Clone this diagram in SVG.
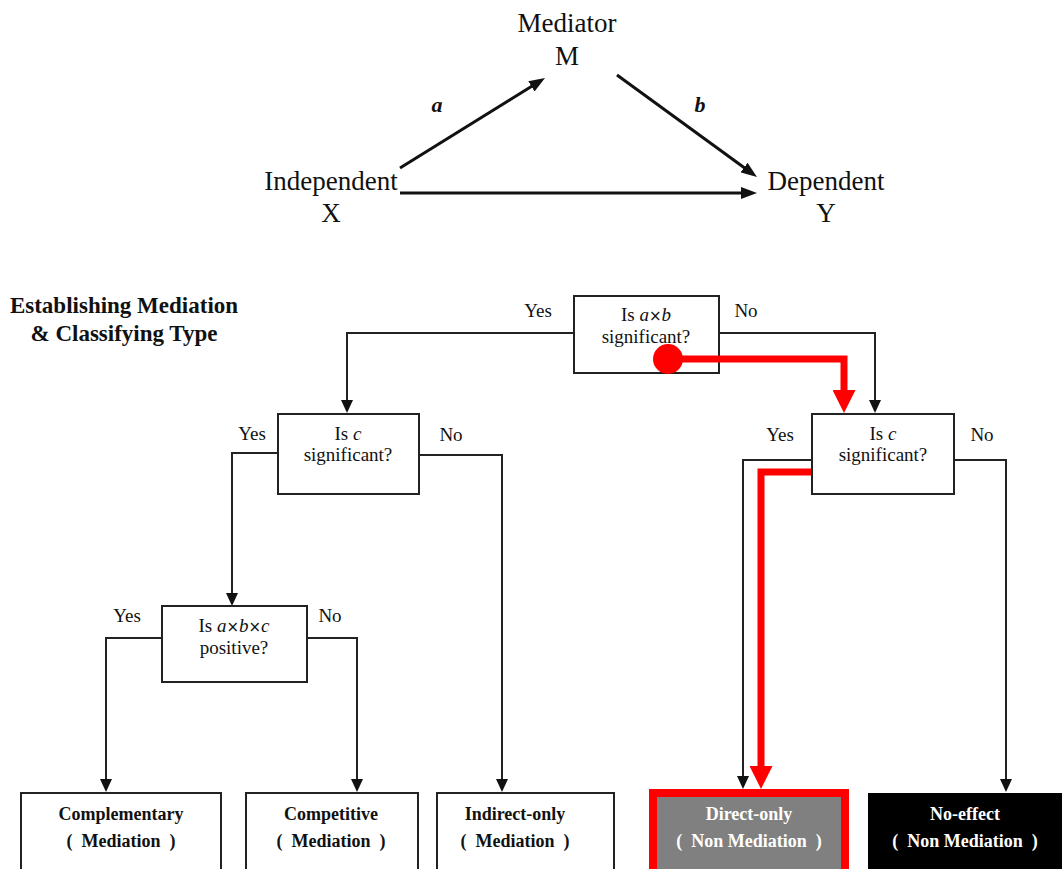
<svg xmlns="http://www.w3.org/2000/svg" width="1062" height="869" viewBox="0 0 1062 869">
<defs>
<style>
.t{font-family:"Liberation Serif","Times New Roman",serif;fill:#111;}
.big{font-size:27px;}
.lab{font-size:19px;}
.out{font-size:18px;font-weight:bold;}
.bold{font-weight:bold;}
.box{fill:#fff;stroke:#222;stroke-width:2;}
.ln{fill:none;stroke:#222;stroke-width:2;}
.tl{fill:none;stroke:#111;stroke-width:3;}
.red{fill:none;stroke:#f00;stroke-width:7;}
.x{font-family:"DejaVu Sans",sans-serif;font-size:15px;font-style:normal;}
</style>
<marker id="ah" markerUnits="userSpaceOnUse" viewBox="0 0 13 12" markerWidth="13" markerHeight="12" refX="8" refY="6" orient="auto"><path d="M0,0 L13,6 L0,12 z" fill="#111"/></marker>
<marker id="ahT" markerUnits="userSpaceOnUse" viewBox="0 0 16 12" markerWidth="16" markerHeight="12" refX="8" refY="6" orient="auto"><path d="M0,0 L16,6 L0,12 z" fill="#111"/></marker>
<marker id="ahR" markerUnits="userSpaceOnUse" viewBox="0 0 23 23" markerWidth="23" markerHeight="23" refX="13" refY="11.5" orient="auto"><path d="M0,0 L23,11.5 L0,23 z" fill="#f00"/></marker>
</defs>
<rect width="1062" height="869" fill="#fff"/>

<!-- Top mediation model -->
<g id="mediator"><text class="t big" x="567" y="32" text-anchor="middle">Mediator</text><text class="t big" x="567" y="65" text-anchor="middle">M</text></g>
<g id="independent"><text class="t big" x="331" y="190" text-anchor="middle">Independent</text><text class="t big" x="331" y="222" text-anchor="middle">X</text></g>
<g id="dependent"><text class="t big" x="826" y="190" text-anchor="middle">Dependent</text><text class="t big" x="826" y="222" text-anchor="middle">Y</text></g>
<g id="top-connectors">
<path class="tl" d="M400,168 L538.2,82.2" marker-end="url(#ahT)"/>
<path class="tl" d="M617,75 L750.5,172.3" marker-end="url(#ahT)"/>
<path class="tl" d="M400,193 L749,193" marker-end="url(#ahT)"/>
<text class="t bold" x="437" y="112" font-size="22" font-style="italic" text-anchor="middle">a</text>
<text class="t bold" x="700" y="112" font-size="22" font-style="italic" text-anchor="middle">b</text>
</g>

<!-- Title -->
<g id="title">
<text class="t bold" x="124" y="313" font-size="23" text-anchor="middle">Establishing Mediation</text>
<text class="t bold" x="124" y="341" font-size="23" text-anchor="middle">&amp; Classifying Type</text>
</g>

<!-- Connectors -->
<g id="connectors">
<path class="ln" d="M574,333 H347 V408" marker-end="url(#ah)"/>
<path class="ln" d="M719,333 H875 V408" marker-end="url(#ah)"/>
<path class="ln" d="M278,453 H232 V601" marker-end="url(#ah)"/>
<path class="ln" d="M419,455 H502 V787" marker-end="url(#ah)"/>
<path class="ln" d="M162,638 H106 V787" marker-end="url(#ah)"/>
<path class="ln" d="M307,638 H357 V787" marker-end="url(#ah)"/>
<path class="ln" d="M812,460 H743 V784" marker-end="url(#ah)"/>
<path class="ln" d="M954,460 H1006 V787" marker-end="url(#ah)"/>
<text class="t lab" x="538" y="317" text-anchor="middle">Yes</text>
<text class="t lab" x="746" y="317" text-anchor="middle">No</text>
<text class="t lab" x="252" y="440" text-anchor="middle">Yes</text>
<text class="t lab" x="451" y="441" text-anchor="middle">No</text>
<text class="t lab" x="127" y="622" text-anchor="middle">Yes</text>
<text class="t lab" x="330" y="622" text-anchor="middle">No</text>
<text class="t lab" x="780" y="441" text-anchor="middle">Yes</text>
<text class="t lab" x="982" y="441" text-anchor="middle">No</text>
</g>

<!-- Decision nodes -->
<g id="q-ab">
<rect class="box" x="574" y="296" width="145" height="77"/>
<text class="t lab" x="646" y="321" text-anchor="middle">Is <tspan font-style="italic">a</tspan><tspan class="x">×</tspan><tspan font-style="italic">b</tspan></text>
<text class="t lab" x="646" y="343" text-anchor="middle">significant?</text>
</g>
<g id="q-c-left">
<rect class="box" x="278" y="414" width="141" height="80"/>
<text class="t lab" x="348" y="440" text-anchor="middle">Is <tspan font-style="italic">c</tspan></text>
<text class="t lab" x="348" y="461" text-anchor="middle">significant?</text>
</g>
<g id="q-abc">
<rect class="box" x="162" y="606" width="145" height="76"/>
<text class="t lab" x="234" y="632" text-anchor="middle">Is <tspan font-style="italic">a</tspan><tspan class="x">×</tspan><tspan font-style="italic">b</tspan><tspan class="x">×</tspan><tspan font-style="italic">c</tspan></text>
<text class="t lab" x="234" y="654" text-anchor="middle">positive?</text>
</g>
<g id="q-c-right">
<rect class="box" x="812" y="414" width="142" height="80"/>
<text class="t lab" x="883" y="440" text-anchor="middle">Is <tspan font-style="italic">c</tspan></text>
<text class="t lab" x="883" y="461" text-anchor="middle">significant?</text>
</g>

<!-- Outcome nodes -->
<g id="complementary">
<rect class="box" x="21" y="793" width="200" height="80"/>
<text class="t out" x="121" y="820" text-anchor="middle">Complementary</text>
<text class="t out" x="121" y="847" text-anchor="middle" xml:space="preserve">(  Mediation  )</text>
</g>
<g id="competitive">
<rect class="box" x="246" y="793" width="172" height="80"/>
<text class="t out" x="331" y="820" text-anchor="middle">Competitive</text>
<text class="t out" x="331" y="847" text-anchor="middle" xml:space="preserve">(  Mediation  )</text>
</g>
<g id="indirect-only">
<rect class="box" x="437" y="793" width="177" height="80"/>
<text class="t out" x="515" y="820" text-anchor="middle">Indirect-only</text>
<text class="t out" x="515" y="847" text-anchor="middle" xml:space="preserve">(  Mediation  )</text>
</g>
<g id="direct-only">
<rect x="653" y="793" width="192" height="80" fill="#808080" stroke="#f00" stroke-width="8"/>
<text class="t out" x="749" y="820" text-anchor="middle" style="fill:#fff">Direct-only</text>
<text class="t out" x="749" y="847" text-anchor="middle" style="fill:#fff" xml:space="preserve">(  Non Mediation  )</text>
</g>
<g id="no-effect">
<rect x="868" y="793" width="196" height="80" fill="#000"/>
<text class="t out" x="965" y="820" text-anchor="middle" style="fill:#fff">No-effect</text>
<text class="t out" x="965" y="847" text-anchor="middle" style="fill:#fff" xml:space="preserve">(  Non Mediation  )</text>
</g>

<!-- Highlighted path -->
<g id="highlight">
<path class="red" d="M668,359 H844 V403" marker-end="url(#ahR)"/>
<circle cx="668" cy="359" r="15" fill="#f00"/>
<path class="red" d="M811,472 H761 V779" marker-end="url(#ahR)"/>
</g>
</svg>
